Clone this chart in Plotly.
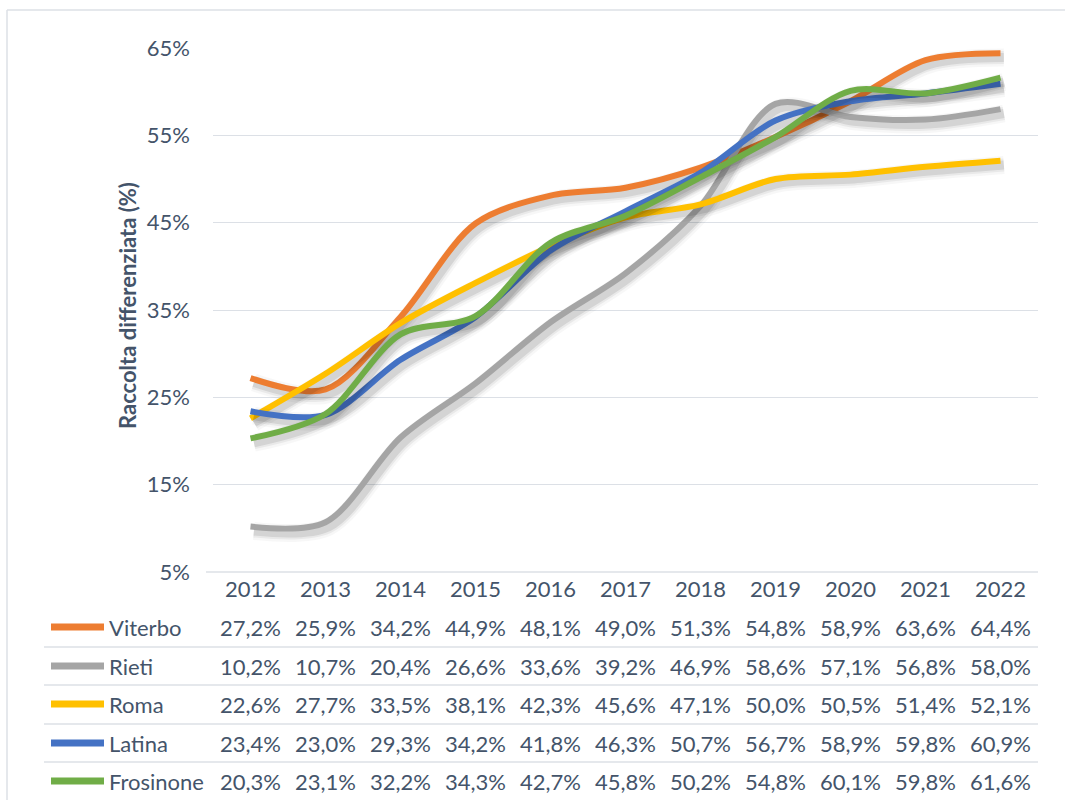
import plotly.graph_objects as go

years = [2012, 2013, 2014, 2015, 2016, 2017, 2018, 2019, 2020, 2021, 2022]
viterbo = [27.2, 25.9, 34.2, 44.9, 48.1, 49.0, 51.3, 54.8, 58.9, 63.6, 64.4]
rieti = [10.2, 10.7, 20.4, 26.6, 33.6, 39.2, 46.9, 58.6, 57.1, 56.8, 58.0]
roma = [22.6, 27.7, 33.5, 38.1, 42.3, 45.6, 47.1, 50.0, 50.5, 51.4, 52.1]
latina = [23.4, 23.0, 29.3, 34.2, 41.8, 46.3, 50.7, 56.7, 58.9, 59.8, 60.9]
frosinone = [20.3, 23.1, 32.2, 34.3, 42.7, 45.8, 50.2, 54.8, 60.1, 59.8, 61.6]

series_names = ["Viterbo", "Rieti", "Roma", "Latina", "Frosinone"]
series_values = [viterbo, rieti, roma, latina, frosinone]
series_colors = ["#ED7D31", "#A5A5A5", "#FFC000", "#4472C4", "#70AD47"]
y_ticks = [5, 15, 25, 35, 45, 55, 65]
y_title = "Raccolta differenziata (%)"

W, H = 1065, 800
FONT = "Lato, sans-serif"
FS = 22
TXT = "#44546A"
GRID = "#DCE0E6"


def px(x):
    return x / W


def py(y):
    return 1 - y / H


fig = go.Figure()

for name, vals, col in zip(series_names, series_values, series_colors):
    sx = [y + 0.045 for y in years]
    sy = [v - 0.5 for v in vals]
    for w, a in [(18, 0.03), (13, 0.055), (9, 0.09)]:
        fig.add_trace(go.Scatter(
            x=sx, y=sy, mode="lines",
            line=dict(color=f"rgba(0,0,0,{a})", width=w, shape="spline", smoothing=0.9),
            hoverinfo="skip", showlegend=False))
    fig.add_trace(go.Scatter(
        x=years, y=vals, mode="lines", name=name,
        line=dict(color=col, width=6, shape="spline", smoothing=0.9),
        showlegend=False))

fig.update_layout(
    template="none",
    width=W, height=H, autosize=False,
    margin=dict(l=0, r=0, t=0, b=0, pad=0),
    paper_bgcolor="white", plot_bgcolor="white",
    font=dict(family=FONT, size=FS, color=TXT),
    xaxis=dict(domain=[px(213), px(1038)], range=[2011.5, 2022.5],
               tickvals=years, ticktext=[str(y) for y in years],
               showgrid=False, zeroline=False, showline=False,
               ticks="", ticklabelstandoff=2, automargin=False,
               tickfont=dict(family=FONT, size=FS, color=TXT)),
    yaxis=dict(domain=[py(572), py(48)], range=[5, 65],
               tickvals=y_ticks, ticktext=[f"{t}%" for t in y_ticks],
               showgrid=True, gridcolor=GRID, gridwidth=1.3,
               zeroline=False, showline=False, ticks="",
               ticklabelstandoff=22, automargin=False,
               tickfont=dict(family=FONT, size=FS, color=TXT)),
)

shapes = []
shapes.append(dict(type="line", xref="paper", yref="paper",
                   x0=px(7), x1=1.01, y0=py(10), y1=py(10),
                   line=dict(color=GRID, width=1.5)))
shapes.append(dict(type="line", xref="paper", yref="paper",
                   x0=px(7), x1=px(7), y0=py(10), y1=-0.01,
                   line=dict(color=GRID, width=1.5)))
shapes.append(dict(type="line", xref="paper", yref="paper",
                   x0=px(206), x1=px(1038), y0=py(572), y1=py(572),
                   line=dict(color=GRID, width=1.5)))

row_y = [627, 666, 704, 743, 781]
sep_y = [647, 685, 724, 762]
for s in sep_y:
    shapes.append(dict(type="line", xref="paper", yref="paper",
                       x0=px(44), x1=px(1038), y0=py(s), y1=py(s),
                       line=dict(color=GRID, width=1.5)))

annotations = []
for name, vals, col, ry in zip(series_names, series_values, series_colors, row_y):
    shapes.append(dict(type="line", xref="paper", yref="paper",
                       x0=px(51), x1=px(104), y0=py(ry), y1=py(ry),
                       line=dict(color=col, width=7)))
    annotations.append(dict(x=px(107), y=py(ry), xref="paper", yref="paper",
                            text=name, showarrow=False, xanchor="left",
                            yanchor="middle",
                            font=dict(family=FONT, size=FS, color=TXT)))
    for yr, v in zip(years, vals):
        annotations.append(dict(x=yr, y=py(ry), xref="x", yref="paper",
                                text=f"{v:.1f}%".replace(".", ","),
                                showarrow=False, xanchor="center",
                                yanchor="middle",
                                font=dict(family=FONT, size=FS, color=TXT)))

annotations.append(dict(x=px(127), y=py(306), xref="paper", yref="paper",
                        text=f"<b>{y_title}</b>", showarrow=False,
                        textangle=-90, xanchor="center", yanchor="middle",
                        font=dict(family=FONT, size=22, color=TXT)))

fig.update_layout(shapes=shapes, annotations=annotations)
fig.write_html(
    "out.html",
    config={"displayModeBar": False, "responsive": False},
    post_script="document.body.style.margin='0';document.body.style.overflow='hidden';",
)
